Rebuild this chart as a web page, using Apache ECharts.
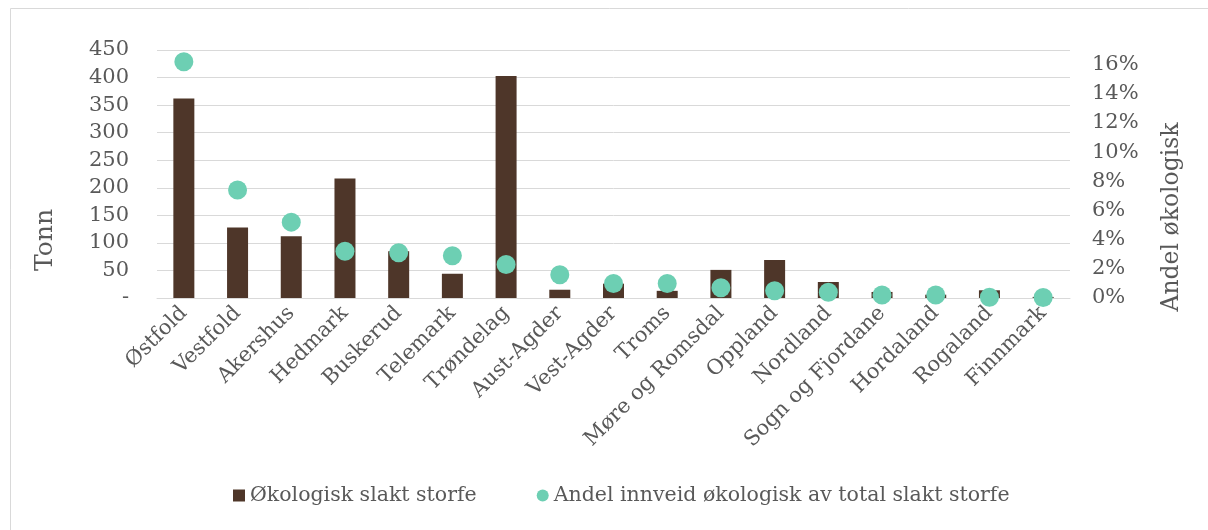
<!DOCTYPE html>
<html>
<head>
<meta charset="utf-8">
<script src="https://cdn.jsdelivr.net/npm/echarts@6/dist/echarts.min.js"></script>
<style>
  html, body { margin: 0; padding: 0; background: #fff; }
  #chart-container { width: 1208px; height: 530px; }
</style>
</head>
<body>
<div id="chart-container"></div>
<script>
var fylker = ['Østfold', 'Vestfold', 'Akershus', 'Hedmark', 'Buskerud', 'Telemark', 'Trøndelag',
  'Aust-Agder', 'Vest-Agder', 'Troms', 'Møre og Romsdal', 'Oppland', 'Nordland',
  'Sogn og Fjordane', 'Hordaland', 'Rogaland', 'Finnmark'];
var tonn = [362, 128, 112, 217, 85, 44, 403, 15, 26, 13, 51, 69, 29, 11, 6, 14, 2];
var andel = [16.2, 7.4, 5.2, 3.2, 3.1, 2.9, 2.3, 1.6, 1.0, 1.0, 0.7, 0.5, 0.4, 0.2, 0.2, 0.05, 0.03];

var font = 'DejaVu Serif';
var grey = '#595959';

var dom = document.getElementById('chart-container');
var myChart = echarts.init(dom, null, { renderer: 'canvas' });

var option = {
  animation: false,
  textStyle: { fontFamily: font, color: grey },
  graphic: [
    { type: 'line', shape: { x1: 10.5, y1: 8.5, x2: 1208, y2: 8.5 }, style: { stroke: '#d9d9d9', lineWidth: 1 } },
    { type: 'line', shape: { x1: 10.5, y1: 8.5, x2: 10.5, y2: 530 }, style: { stroke: '#d9d9d9', lineWidth: 1 } },
    // axis titles placed like the original, not centred on the axis
    {
      type: 'text', x: 45, y: 240, rotation: Math.PI / 2,
      style: { text: 'Tonn', font: '25px "DejaVu Serif"', fill: grey, align: 'center', verticalAlign: 'middle' }
    },
    {
      type: 'text', x: 1172, y: 217, rotation: Math.PI / 2,
      style: { text: 'Andel økologisk', font: '23.5px "DejaVu Serif"', fill: grey, align: 'center', verticalAlign: 'middle' }
    }
  ],
  grid: { left: 157, right: 138, top: 50, bottom: 232 },
  legend: {
    bottom: 19,
    left: 228,
    itemGap: 60,
    itemWidth: 12,
    itemHeight: 12,
    textStyle: { fontFamily: font, fontSize: 20.5, color: grey },
    data: [
      { name: 'Økologisk slakt storfe', icon: 'rect' },
      { name: 'Andel innveid økologisk av total slakt storfe', icon: 'circle' }
    ]
  },
  xAxis: {
    type: 'category',
    data: fylker,
    axisLine: { lineStyle: { color: '#d9d9d9' } },
    axisTick: { show: false },
    axisLabel: { rotate: 45, interval: 0, margin: 12, fontFamily: font, fontSize: 21, color: grey }
  },
  yAxis: [
    {
      type: 'value',
      min: 0, max: 450, interval: 50,
      axisLine: { show: false },
      axisTick: { show: false },
      splitLine: { lineStyle: { color: '#d9d9d9', width: 1 } },
      axisLabel: {
        margin: 28, fontFamily: font, fontSize: 21, color: grey,
        formatter: function (v) { return v === 0 ? '-' : v; }
      }
    },
    {
      type: 'value',
      min: 0, max: 17, interval: 2,
      axisLine: { show: false },
      axisTick: { show: false },
      splitLine: { show: false },
      axisLabel: {
        margin: 22, fontFamily: font, fontSize: 21, color: grey, showMaxLabel: false,
        formatter: function (v) { return v % 2 === 0 ? v + '%' : ''; }
      }
    }
  ],
  series: [
    {
      name: 'Økologisk slakt storfe',
      type: 'bar',
      data: tonn,
      barWidth: 21,
      itemStyle: { color: '#4e3629' }
    },
    {
      name: 'Andel innveid økologisk av total slakt storfe',
      type: 'scatter',
      yAxisIndex: 1,
      data: andel,
      symbolSize: 19,
      itemStyle: { color: '#6dcfb3', opacity: 1 }
    }
  ]
};

myChart.setOption(option);
window.addEventListener('resize', myChart.resize);
</script>
</body>
</html>
